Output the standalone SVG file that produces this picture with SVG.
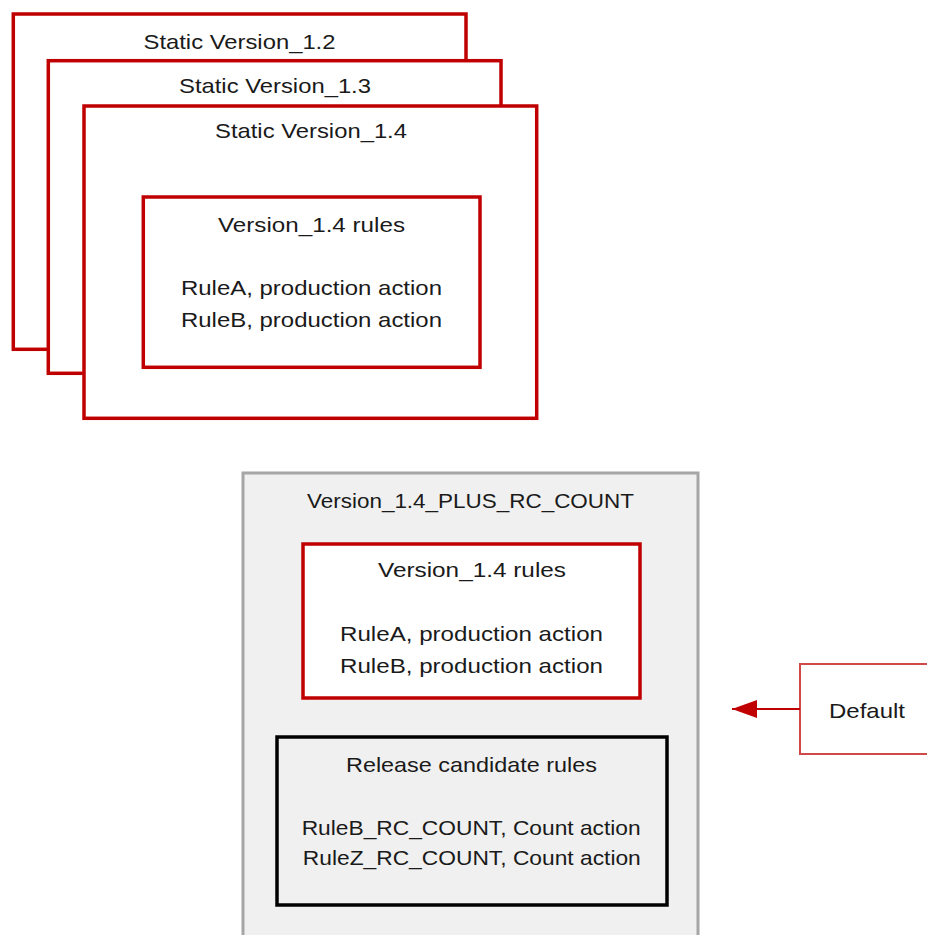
<svg xmlns="http://www.w3.org/2000/svg" width="927" height="935" viewBox="0 0 927 935">
<defs>
<style>
.red{fill:#ffffff;stroke:#c00000;stroke-width:3.5}
.gray{fill:#f0f0f0;stroke:#a6a6a6;stroke-width:3}
.black{fill:#f0f0f0;stroke:#000000;stroke-width:3.5}
.def{fill:#ffffff;stroke:#d04848;stroke-width:2}
text{font-family:"Liberation Sans",Arial,sans-serif;font-size:21px;fill:#1a1a1a;text-anchor:middle}
.conn{stroke:#c00000;stroke-width:2;fill:none}
</style>
<marker id="arrow" viewBox="0 0 25 18" refX="25" refY="9" markerWidth="25" markerHeight="18" markerUnits="userSpaceOnUse" orient="auto">
<path d="M0,0 L25,9 L0,18 Z" fill="#c00000"/>
</marker>
</defs>
<rect width="927" height="935" fill="#ffffff"/>
<g id="static-1-2">
<rect class="red" x="13.3" y="14" width="452.7" height="335.3"/>
<text x="239.5" y="49.3" textLength="192" lengthAdjust="spacingAndGlyphs">Static Version_1.2</text>
</g>
<g id="static-1-3">
<rect class="red" x="48.3" y="60.7" width="452.7" height="312.6"/>
<text x="275" y="93.3" textLength="192" lengthAdjust="spacingAndGlyphs">Static Version_1.3</text>
</g>
<g id="static-1-4">
<rect class="red" x="84" y="106" width="452.7" height="312.3"/>
<text x="311" y="138.3" textLength="192" lengthAdjust="spacingAndGlyphs">Static Version_1.4</text>
</g>
<g id="static-1-4-rules">
<rect class="red" x="143.3" y="197" width="336.7" height="170.3"/>
<text x="311.5" y="231.7" textLength="187" lengthAdjust="spacingAndGlyphs">Version_1.4 rules</text>
<text x="311.5" y="295" textLength="261" lengthAdjust="spacingAndGlyphs">RuleA, production action</text>
<text x="311.5" y="326.7" textLength="261" lengthAdjust="spacingAndGlyphs">RuleB, production action</text>
</g>
<g id="plus-rc-count">
<rect class="gray" x="243" y="473" width="455" height="480"/>
<text x="470.5" y="508" textLength="327" lengthAdjust="spacingAndGlyphs">Version_1.4_PLUS_RC_COUNT</text>
</g>
<g id="plus-rules">
<rect class="red" x="303" y="544" width="337" height="154"/>
<text x="472" y="577" textLength="188" lengthAdjust="spacingAndGlyphs">Version_1.4 rules</text>
<text x="471.5" y="641" textLength="263" lengthAdjust="spacingAndGlyphs">RuleA, production action</text>
<text x="471.5" y="672.5" textLength="263" lengthAdjust="spacingAndGlyphs">RuleB, production action</text>
</g>
<g id="rc-rules">
<rect class="black" x="277" y="737" width="390" height="168"/>
<text x="471.5" y="772" textLength="251" lengthAdjust="spacingAndGlyphs">Release candidate rules</text>
<text x="471.2" y="835" textLength="339" lengthAdjust="spacingAndGlyphs">RuleB_RC_COUNT, Count action</text>
<text x="471.8" y="865" textLength="338" lengthAdjust="spacingAndGlyphs">RuleZ_RC_COUNT, Count action</text>
</g>
<g id="default">
<rect class="def" x="800" y="664" width="140" height="90"/>
<text x="867" y="718" textLength="76" lengthAdjust="spacingAndGlyphs">Default</text>
</g>
<g id="connectors">
<path class="conn" d="M800,709 L732,709" marker-end="url(#arrow)"/>
</g>
</svg>
